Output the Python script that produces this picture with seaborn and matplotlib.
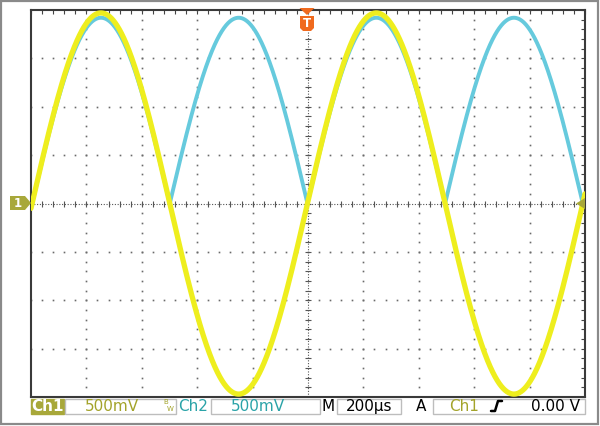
import numpy as np
import pandas as pd
import matplotlib
matplotlib.use("Agg")
import matplotlib.pyplot as plt
from matplotlib.patches import Polygon, Rectangle
import seaborn as sns

# ---- readings from the screen ----
time_span_us = [0, 2000]          # 10 div x 200 us
volt_span = [-2.0, 2.0]           # 8 div x 500 mV
ch1_amplitude_v = [1.97]          # sine peak (Ch1)
ch2_amplitude_v = [1.92]          # rectified peak (Ch2)
period_us = [994.0]
phase_us = [4.0]
status_labels = ["Ch1", "500mV", "Ch2", "500mV", "M", "200\u00b5s", "A", "Ch1", "0.00 V"]

YEL = "#EEEE1E"
BLU = "#66CADD"
OLV = "#A8A83A"
OLV_T = "#A3A32A"
TEAL = "#2AA3A8"
ORG = "#F06A1E"

t = np.linspace(time_span_us[0], time_span_us[1], 4001)
ph = 2 * np.pi * (t - phase_us[0]) / period_us[0]
ch1 = ch1_amplitude_v[0] * np.sin(ph)
ch2 = ch2_amplitude_v[0] * np.abs(np.sin(ph))
df = pd.DataFrame({"t": t, "ch1": ch1, "ch2": ch2})

sns.set_style("white")
W, H = 600, 426
fig = plt.figure(figsize=(6, 4.26), dpi=100)
fig.patch.set_facecolor("white")

def fx(x): return x / W
def fy(y): return 1 - y / H

L, R, T, B = 31, 585, 10, 397
ax = fig.add_axes([fx(L), fy(B), (R - L) / W, (B - T) / H])
ax.set_xlim(*time_span_us)
ax.set_ylim(*volt_span)

xdiv = (time_span_us[1] - time_span_us[0]) / 10
ydiv = (volt_span[1] - volt_span[0]) / 8

# grid dots
minor_y = np.arange(volt_span[0], volt_span[1] + 1e-9, ydiv / 5)
minor_x = np.arange(time_span_us[0], time_span_us[1] + 1e-9, xdiv / 5)
for i in range(1, 10):
    if i == 5:
        continue
    ax.plot(np.full_like(minor_y, i * xdiv), minor_y, ls="none", marker="s",
            ms=1.2, mew=0, color="#6a6a6a", zorder=1)
for j in range(-3, 4):
    if j == 0:
        continue
    ax.plot(minor_x, np.full_like(minor_x, j * ydiv), ls="none", marker="s",
            ms=1.2, mew=0, color="#6a6a6a", zorder=1)
# center axes
ax.axhline(0, color="#555555", lw=0.8, ls=(0, (1, 1.5)), zorder=1)
ax.axvline(5 * xdiv, color="#555555", lw=0.8, ls=(0, (1, 1.5)), zorder=1)
ax.plot(minor_x, np.zeros_like(minor_x), ls="none", marker="|", ms=5, mew=0.8,
        color="#555555", zorder=1)
ax.plot(np.full_like(minor_y, 5 * xdiv), minor_y, ls="none", marker="_", ms=5,
        mew=0.8, color="#555555", zorder=1)

# traces
sns.lineplot(data=df, x="t", y="ch2", ax=ax, color=BLU, lw=2.8, zorder=3,
             estimator=None, sort=False)
sns.lineplot(data=df, x="t", y="ch1", ax=ax, color=YEL, lw=3.8, zorder=4,
             estimator=None, sort=False)

ax.set_xlabel("")
ax.set_ylabel("")
ax.set_xticks(minor_x)
ax.set_yticks(minor_y)
ax.tick_params(direction="in", length=3, width=0.8, color="#444444",
               top=True, right=True, labelbottom=False, labelleft=False)
for s in ax.spines.values():
    s.set_color("#3a3a3a")
    s.set_linewidth(1.5)

# markers
fig.patches.append(Polygon([(fx(10), fy(196)), (fx(25), fy(196)), (fx(31), fy(203)),
                            (fx(25), fy(210)), (fx(10), fy(210))], closed=True,
                           transform=fig.transFigure, facecolor=OLV, edgecolor="none"))
fig.text(fx(18), fy(203.5), "1", color="white", fontsize=8.5, fontweight="bold",
         ha="center", va="center")
fig.patches.append(Polygon([(fx(299.5), fy(8)), (fx(314.5), fy(8)), (fx(307), fy(15))],
                           closed=True, transform=fig.transFigure, facecolor=ORG,
                           edgecolor="none", zorder=10))
fig.patches.append(Polygon([(fx(300), fy(16)), (fx(314), fy(16)), (fx(314), fy(28)),
                            (fx(311), fy(31)), (fx(303), fy(31)), (fx(300), fy(28))],
                           closed=True, transform=fig.transFigure, facecolor=ORG,
                           edgecolor="none", zorder=10))
fig.text(fx(307), fy(23.5), "T", color="white", fontsize=8.5, fontweight="bold",
         ha="center", va="center", zorder=11)
fig.patches.append(Polygon([(fx(576), fy(203.5)), (fx(585), fy(198)), (fx(585), fy(209))],
                           closed=True, transform=fig.transFigure, facecolor=OLV,
                           edgecolor="none", zorder=10))

# status bar
def box(x0, x1, fc="white", ec="#bdbdbd"):
    fig.patches.append(Rectangle((fx(x0), fy(414)), (x1 - x0) / W, 15 / H,
                                 transform=fig.transFigure, facecolor=fc,
                                 edgecolor=ec, lw=1.0))

box(31, 64, fc=OLV, ec=OLV)
box(65, 176)
box(211, 320)
box(337, 401)
box(433, 585)
ty = fy(406.5)
fs = 11
fig.text(fx(47.5), ty, status_labels[0], color="white", fontsize=fs, fontweight="bold",
         ha="center", va="center")
fig.text(fx(112), ty, status_labels[1], color=OLV_T, fontsize=fs, ha="center", va="center")
fig.text(fx(166), fy(402), "B", color=OLV_T, fontsize=5, ha="center", va="center")
fig.text(fx(170), fy(409), "W", color=OLV_T, fontsize=5, ha="center", va="center")
fig.text(fx(193), ty, status_labels[2], color=TEAL, fontsize=fs, ha="center", va="center")
fig.text(fx(258), ty, status_labels[3], color=TEAL, fontsize=fs, ha="center", va="center")
fig.text(fx(328), ty, status_labels[4], color="black", fontsize=fs, ha="center", va="center")
fig.text(fx(369), ty, status_labels[5], color="black", fontsize=fs, ha="center", va="center")
fig.text(fx(421), ty, status_labels[6], color="black", fontsize=fs, ha="center", va="center")
fig.text(fx(464), ty, status_labels[7], color=OLV_T, fontsize=fs, ha="center", va="center")
# rising edge glyph
fig.lines.append(plt.Line2D([fx(491), fx(495), fx(498), fx(502)],
                            [fy(411), fy(411), fy(401), fy(401)],
                            transform=fig.transFigure, color="black", lw=1.8))
fig.text(fx(580), ty, status_labels[8], color="black", fontsize=fs, ha="right", va="center")

# outer frame
fig.patches.append(Rectangle((fx(1), fy(424)), 597 / W, 423 / H,
                             transform=fig.transFigure, facecolor="none",
                             edgecolor="#8a8a8a", lw=1.6))

fig.savefig("out.png", dpi=100, facecolor="white")
